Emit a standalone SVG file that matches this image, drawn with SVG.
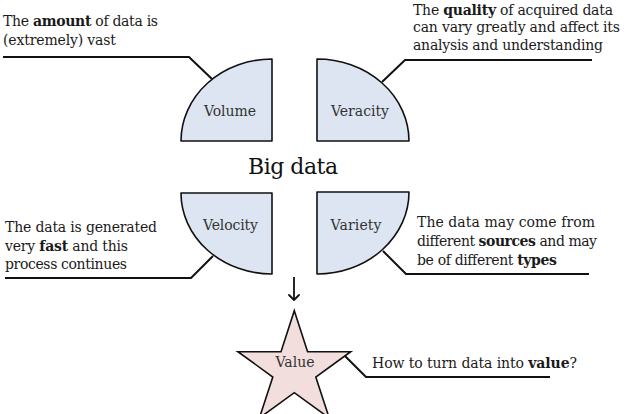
<svg xmlns="http://www.w3.org/2000/svg" width="624" height="414" viewBox="0 0 624 414">
<style>
  text { font-family: 'DejaVu Serif', serif; font-size: 14px; fill: #1a1a1a; }
  .b { font-weight: bold; }
  .lbl { text-anchor: middle; fill: #333; }
  .title { font-size: 22px; text-anchor: middle; fill: #111; }
  .quad { fill: #dce5f1; stroke: #111; stroke-width: 1.6; stroke-linejoin: round; }
  .star { fill: #f2dedd; stroke: #111; stroke-width: 1.6; stroke-linejoin: miter; }
  .call { fill: none; stroke: #111; stroke-width: 2; stroke-linejoin: miter; }
  .arrow { fill: none; stroke: #111; stroke-width: 1.8; }
</style>
<defs>
  <marker id="vhead" markerWidth="12" markerHeight="12" refX="6" refY="6" orient="auto" markerUnits="userSpaceOnUse">
    <path d="M1,1 L6,6 L1,11" fill="none" stroke="#111" stroke-width="1.8" stroke-linecap="round" stroke-linejoin="round"/>
  </marker>
</defs>
<rect width="624" height="414" fill="#fff"/>

<text class="title" x="293" y="174" textLength="90">Big data</text>

<g id="connectors">
  <path class="call" d="M3,57 L189,57 L212,79"/>
  <path class="call" d="M382,82 L405,60 L592,60"/>
  <path class="call" d="M213,256 L191,278 L5,278"/>
  <path class="call" d="M383,251 L406,274 L589,274"/>
  <path class="call" d="M345,356 L366,377 L550,377"/>
  <path class="arrow" d="M294,277 L294,300" marker-end="url(#vhead)"/>
</g>

<g id="volume">
  <path class="quad" d="M272,59 L272,141 L181,141 A91,82 0 0 1 272,59 Z"/>
  <text class="lbl" x="230" y="116" textLength="52">Volume</text>
</g>
<g id="veracity">
  <path class="quad" d="M317,59 A92,82 0 0 1 409,141 L317,141 Z"/>
  <text class="lbl" x="360" y="116" textLength="58">Veracity</text>
</g>
<g id="velocity">
  <path class="quad" d="M181,193 L272,193 L272,274 A91,81 0 0 1 181,193 Z"/>
  <text class="lbl" x="230.5" y="230" textLength="55">Velocity</text>
</g>
<g id="variety">
  <path class="quad" d="M317,192 L409,192 A92,82 0 0 1 317,274 Z"/>
  <text class="lbl" x="356" y="230" textLength="51">Variety</text>
</g>
<g id="value">
  <polygon class="star" points="294.3,310.7 307.6,351.7 350.7,351.7 315.8,377 329.2,418 294.3,392.7 259.4,418 272.8,377 237.9,351.7 281,351.7"/>
  <text class="lbl" x="295" y="367" textLength="39">Value</text>
</g>

<g id="note-volume">
  <text x="3" y="26" textLength="155">The <tspan class="b">amount</tspan> of data is</text>
  <text x="3" y="44.5" textLength="113">(extremely) vast</text>
</g>
<g id="note-veracity">
  <text x="413" y="14.5" textLength="200">The <tspan class="b">quality</tspan> of acquired data</text>
  <text x="413" y="32" textLength="207">can vary greatly and affect its</text>
  <text x="413" y="50" textLength="190">analysis and understanding</text>
</g>
<g id="note-velocity">
  <text x="5" y="231.5" textLength="152">The data is generated</text>
  <text x="5" y="250.5" textLength="123">very <tspan class="b">fast</tspan> and this</text>
  <text x="5" y="269" textLength="122">process continues</text>
</g>
<g id="note-variety">
  <text x="417" y="226.5" textLength="178">The data may come from</text>
  <text x="417" y="245.5" textLength="180">different <tspan class="b">sources</tspan> and may</text>
  <text x="417" y="264.5" textLength="140">be of different <tspan class="b">types</tspan></text>
</g>
<g id="note-value">
  <text x="372" y="368" textLength="205">How to turn data into <tspan class="b">value</tspan>?</text>
</g>
</svg>
